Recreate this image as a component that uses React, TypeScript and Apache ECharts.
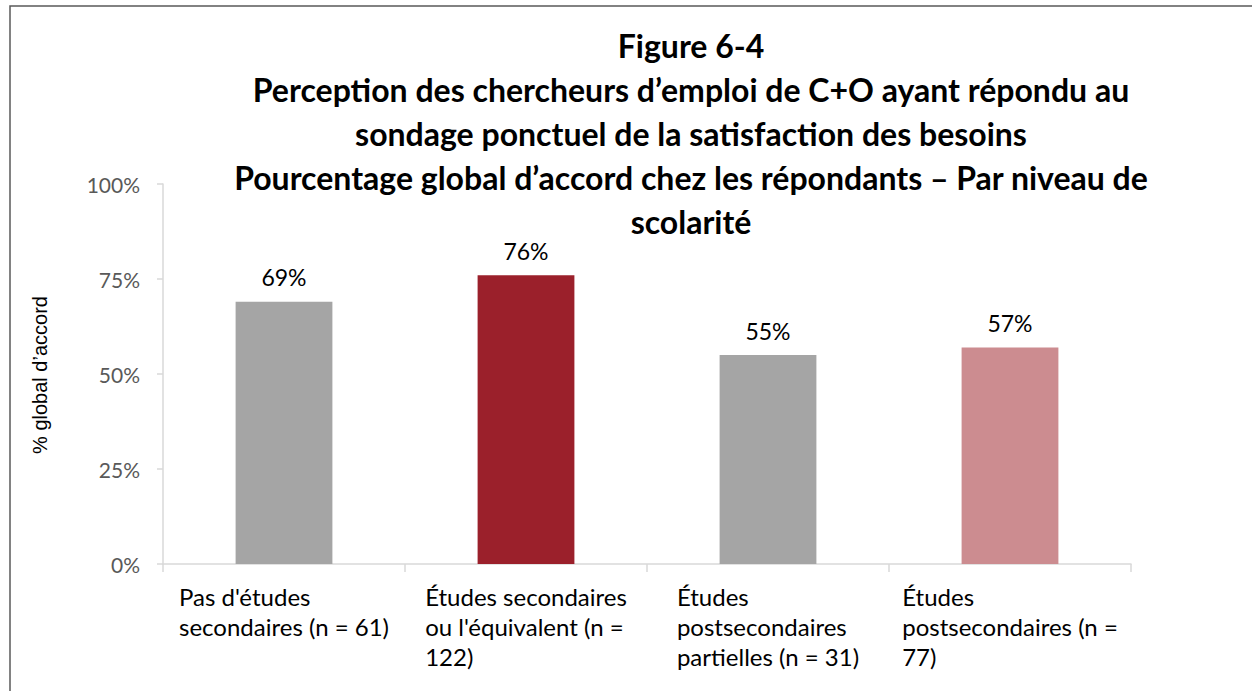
import React, { useEffect, useRef } from "react";
import * as echarts from "echarts";

const titleLines = [
  "Figure 6-4",
  "Perception des chercheurs d’emploi de C+O ayant répondu au",
  "sondage ponctuel de la satisfaction des besoins",
  "Pourcentage global d’accord chez les répondants – Par niveau de",
  "scolarité",
];
const categories = [
  "Pas d'études\nsecondaires (n = 61)",
  "Études secondaires\nou l'équivalent (n =\n122)",
  "Études\npostsecondaires\npartielles (n = 31)",
  "Études\npostsecondaires (n =\n77)",
];
const values = [69, 76, 55, 57];
const barColors = ["#A5A5A5", "#9B202B", "#A5A5A5", "#CC8C90"];
const yTicks = [0, 25, 50, 75, 100];
const yAxisTitle = "% global d’accord";

export default function App() {
  const ref = useRef<HTMLDivElement>(null);
  useEffect(() => {
    if (!ref.current) return;
    const chart = echarts.init(ref.current, undefined, { renderer: "svg" });
    chart.setOption({
      animation: false,
      backgroundColor: "#ffffff",
      grid: { left: 163, right: 121, top: 184, bottom: 127, containLabel: false },
      graphic: [
        {
          type: "rect",
          shape: { x: 10, y: 6, width: 1400, height: 900 },
          style: { fill: "none", stroke: "#595959", lineWidth: 1.5 },
          silent: true,
        },
        {
          type: "text",
          x: 691,
          y: 23,
          style: {
            text: titleLines.join("\n"),
            textAlign: "center",
            fontFamily: "Lato",
            fontWeight: "bold",
            fontSize: 32,
            lineHeight: 44,
            fill: "#000000",
          },
        },
        {
          type: "text",
          x: 40,
          y: 375,
          rotation: Math.PI / 2,
          style: {
            text: yAxisTitle,
            textAlign: "center",
            textVerticalAlign: "middle",
            fontFamily: "Liberation Sans",
            fontSize: 20,
            fill: "#000000",
          },
        },
      ],
      xAxis: {
        type: "category",
        data: categories,
        boundaryGap: true,
        axisLine: { show: true, lineStyle: { color: "#D9D9D9", width: 1.5 } },
        axisTick: { show: true, length: 8, lineStyle: { color: "#D9D9D9", width: 1.5 } },
        axisLabel: {
          interval: 0,
          margin: 17,
          formatter: (v: string) =>
            v
              .split("\n")
              .map((l) => "{a|" + l + "}")
              .join("\n"),
          rich: {
            a: {
              align: "left",
              fontFamily: "Lato",
              fontSize: 24,
              lineHeight: 30,
              color: "#000000",
            },
          },
        },
      },
      yAxis: {
        type: "value",
        min: yTicks[0],
        max: yTicks[yTicks.length - 1],
        interval: 25,
        axisLine: { show: true, lineStyle: { color: "#D9D9D9", width: 1.5 } },
        axisTick: { show: true, length: 6, lineStyle: { color: "#D9D9D9", width: 1.5 } },
        splitLine: { show: false },
        axisLabel: {
          formatter: "{value}%",
          margin: 23,
          fontFamily: "Lato",
          fontSize: 21,
          color: "#595959",
        },
      },
      series: [
        {
          type: "bar",
          data: values.map((v, i) => ({ value: v, itemStyle: { color: barColors[i] } })),
          barWidth: "40%",
          label: {
            show: true,
            position: "top",
            distance: 13,
            formatter: "{c}%",
            fontFamily: "Lato",
            fontSize: 23,
            color: "#000000",
          },
        },
      ],
    });
    return () => chart.dispose();
  }, []);
  return (
    <div
      ref={ref}
      style={{ position: "fixed", left: 0, top: 0, width: 1252, height: 691 }}
    />
  );
}
